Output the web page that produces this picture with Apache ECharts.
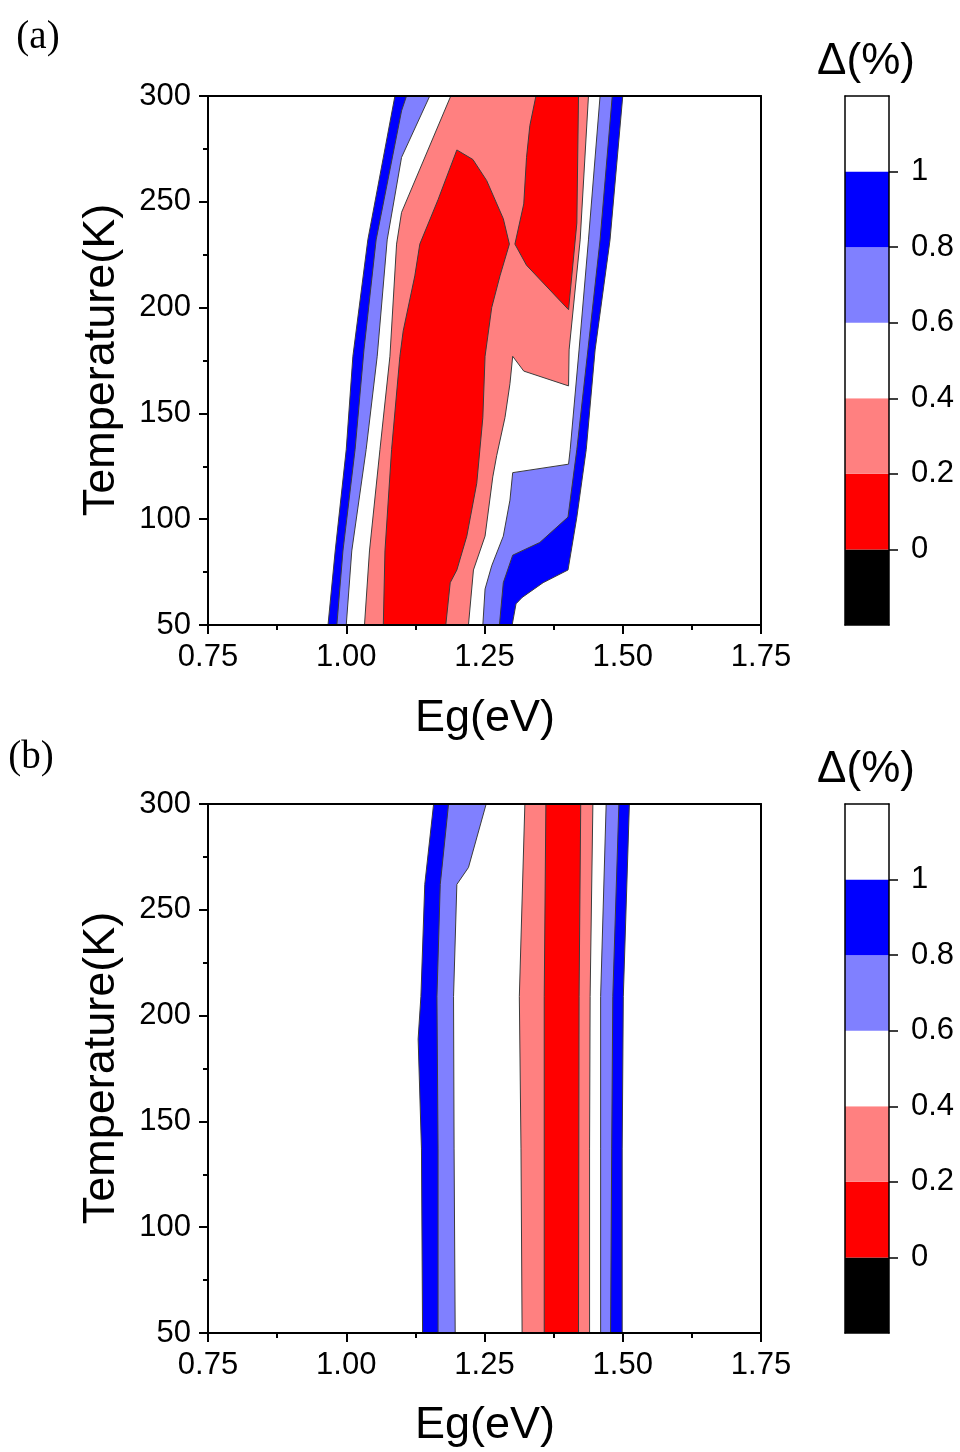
<!DOCTYPE html>
<html><head><meta charset="utf-8">
<script src="https://cdn.jsdelivr.net/npm/echarts@6/dist/echarts.min.js"></script>
<style>html,body{margin:0;background:#fff}#c{width:960px;height:1452px}</style>
</head><body><div id="c"></div>
<script>
// ---------- axes / ticks ----------
const egTicks = [0.75, 1.00, 1.25, 1.50, 1.75];
const tempTicks = [50, 100, 150, 200, 250, 300];
const cbLevels = [-0.2, 0, 0.2, 0.4, 0.6, 0.8, 1.0, 1.2];
const cbColors = ['#000000', '#FF0000', '#FF8080', '#FFFFFF', '#8080FF', '#0000FF', '#FFFFFF'];
const cbTicks = [0, 0.2, 0.4, 0.6, 0.8, 1];

// ---------- panel (a): contour boundaries [Eg (eV), T (K)], left edge top->bottom, right edge top->bottom ----------
const a_lv100_left  = [[1.088,300],[1.039,232],[1.012,177],[1.000,133],[0.980,85],[0.967,50]];
const a_lv100_right = [[1.500,300],[1.477,232],[1.450,180],[1.434,133],[1.417,101],[1.401,76],[1.356,70],[1.318,63],[1.307,60],[1.300,50]];
const a_lv080_left  = [[1.109,300],[1.100,293],[1.054,232],[1.032,180],[1.016,133],[0.994,85],[0.983,50]];
const a_lv080_right = [[1.481,300],[1.459,232],[1.437,180],[1.417,133],[1.401,101],[1.350,89],[1.301,83],[1.284,70],[1.277,50]];
const a_lv060_left  = [[1.151,300],[1.100,271],[1.074,232],[1.056,177],[1.036,133],[1.010,85],[1.000,50]];
const a_lv060_right = [[1.459,300],[1.438,232],[1.421,180],[1.405,133],[1.402,126],[1.301,122],[1.296,109],[1.284,92],[1.263,78],[1.251,67],[1.247,50]];
const a_lv040_left  = [[1.189,300],[1.100,245],[1.091,230],[1.079,177],[1.061,133],[1.042,85],[1.033,50]];
const a_lv040_right = [[1.438,300],[1.423,232],[1.403,180],[1.402,163],[1.321,170],[1.301,177],[1.296,164],[1.287,148],[1.272,130],[1.265,120],[1.251,92],[1.230,76],[1.221,50]];
const a_lv020_islandA = [[1.200,274.5],[1.229,270],[1.254,260],[1.284,242],[1.295,230],[1.278,215],[1.263,200],[1.251,177],[1.247,148],[1.236,117],[1.218,92],[1.200,76],[1.188,70],[1.180,50],[1.067,50],[1.070,85],[1.082,133],[1.097,177],[1.103,189],[1.124,215],[1.133,230],[1.166,251]];
const a_lv020_islandB = [[1.343,300],[1.420,300],[1.417,240],[1.402,199],[1.326,220],[1.305,230],[1.321,249],[1.326,271],[1.332,286]];

// ---------- panel (b) ----------
const b_lv100_left  = [[1.158,300],[1.142,262],[1.135,209],[1.130,189],[1.136,137],[1.138,50]];
const b_lv100_right = [[1.512,300],[1.501,209],[1.499,137],[1.499,50]];
const b_lv080_left  = [[1.185,300],[1.170,262],[1.164,209],[1.166,137],[1.166,50]];
const b_lv080_right = [[1.493,300],[1.482,209],[1.480,137],[1.478,50]];
const b_lv060_left  = [[1.253,300],[1.221,270],[1.200,262],[1.194,209],[1.195,137],[1.197,50]];
const b_lv060_right = [[1.470,300],[1.460,209],[1.460,137],[1.460,50]];
const b_lv040_left  = [[1.323,300],[1.313,209],[1.316,137],[1.318,50]];
const b_lv040_right = [[1.446,300],[1.441,209],[1.440,137],[1.440,50]];
const b_lv020_left  = [[1.361,300],[1.358,209],[1.358,50]];
const b_lv020_right = [[1.424,300],[1.421,209],[1.420,50]];

// ---------- build ----------
function band(left, right) { return left.concat(right.slice().reverse()); }
const FONT = '"Liberation Sans", Arial, sans-serif';
const EDGE = '#3c3c3c';

function polySeries(idx, polys, color) {
  return {
    type: 'custom', xAxisIndex: idx, yAxisIndex: idx, silent: true, animation: false, z: 2,
    data: polys.map((p, i) => [p[0][0], p[0][1], i]),
    renderItem: (params, api) => {
      const pts = polys[params.dataIndex].map(d => api.coord(d));
      return { type: 'polygon', shape: { points: pts }, style: { fill: color, stroke: EDGE, lineWidth: 1 } };
    }
  };
}
function cbSeries(idx) {
  return {
    type: 'custom', xAxisIndex: idx, yAxisIndex: idx, silent: true, animation: false, z: 2,
    data: cbColors.map((c, i) => [0, cbLevels[i], i]),
    renderItem: (params, api) => {
      const i = params.dataIndex;
      const p0 = api.coord([0, cbLevels[i + 1]]);
      const p1 = api.coord([1, cbLevels[i]]);
      return { type: 'rect', shape: { x: p0[0], y: p0[1], width: p1[0] - p0[0], height: p1[1] - p0[1] }, style: { fill: cbColors[i] } };
    }
  };
}

const panels = [{ top: 96 }, { top: 804 }];
const grids = [], xAxes = [], yAxes = [], series = [];
panels.forEach((p, k) => {
  grids.push({ left: 208, top: p.top, width: 553, height: 529, show: false });
});
panels.forEach((p, k) => {
  grids.push({ left: 845, top: p.top, width: 44, height: 529, show: false });
});
const lineStyle = { color: '#000', width: 2 };
const TICKFS = 31;
for (let k = 0; k < 2; k++) {
  xAxes.push({ gridIndex: k, type: 'value', min: 0.75, max: 1.75, interval: 0.25, position: 'bottom', z: 10,
    axisLine: { show: true, lineStyle: lineStyle, onZero: false },
    axisTick: { show: true, inside: false, length: 9, lineStyle: { color: '#000', width: 2 } },
    minorTick: { show: true, splitNumber: 2, length: 5, lineStyle: { color: '#000', width: 2 } },
    splitLine: { show: false },
    axisLabel: { margin: 17, fontSize: TICKFS, fontFamily: FONT, color: '#000', formatter: v => v.toFixed(2) } });
  yAxes.push({ gridIndex: k, type: 'value', min: 50, max: 300, interval: 50, position: 'left', z: 10,
    axisLine: { show: true, lineStyle: lineStyle, onZero: false },
    axisTick: { show: true, inside: false, length: 9, lineStyle: { color: '#000', width: 2 } },
    minorTick: { show: true, splitNumber: 2, length: 5, lineStyle: { color: '#000', width: 2 } },
    splitLine: { show: false },
    axisLabel: { margin: 17, fontSize: TICKFS, fontFamily: FONT, color: '#000' } });
}
for (let k = 0; k < 2; k++) {
  xAxes.push({ gridIndex: 2 + k, type: 'value', min: 0, max: 1, show: false });
  yAxes.push({ gridIndex: 2 + k, type: 'value', min: -0.2, max: 1.2, interval: 0.2, position: 'right', z: 10,
    axisLine: { show: true, lineStyle: { color: '#000', width: 1.5 }, onZero: false },
    axisTick: { show: true, inside: false, length: 9, customValues: cbTicks, lineStyle: { color: '#000', width: 1.5 } },
    splitLine: { show: false },
    axisLabel: { margin: 22, fontSize: TICKFS, fontFamily: FONT, color: '#000', customValues: cbTicks,
      formatter: v => String(Math.round(v * 10) / 10) } });
}
// frame lines (top / right for plots, top/left/bottom for colour bars)
for (let k = 0; k < 2; k++) {
  xAxes.push({ gridIndex: k, type: 'value', min: 0.75, max: 1.75, position: 'top', z: 10,
    axisLine: { show: true, lineStyle: lineStyle, onZero: false }, axisTick: { show: false }, axisLabel: { show: false }, splitLine: { show: false } });
  yAxes.push({ gridIndex: k, type: 'value', min: 50, max: 300, position: 'right', z: 10,
    axisLine: { show: true, lineStyle: lineStyle, onZero: false }, axisTick: { show: false }, axisLabel: { show: false }, splitLine: { show: false } });
}
for (let k = 0; k < 2; k++) {
  xAxes.push({ gridIndex: 2 + k, type: 'value', min: 0, max: 1, position: 'top', z: 10,
    axisLine: { show: true, lineStyle: { color: '#000', width: 1.5 }, onZero: false }, axisTick: { show: false }, axisLabel: { show: false }, splitLine: { show: false } });
  xAxes.push({ gridIndex: 2 + k, type: 'value', min: 0, max: 1, position: 'bottom', z: 10,
    axisLine: { show: true, lineStyle: { color: '#000', width: 1.5 }, onZero: false }, axisTick: { show: false }, axisLabel: { show: false }, splitLine: { show: false } });
  yAxes.push({ gridIndex: 2 + k, type: 'value', min: -0.2, max: 1.2, position: 'left', z: 10,
    axisLine: { show: true, lineStyle: { color: '#000', width: 1.5 }, onZero: false }, axisTick: { show: false }, axisLabel: { show: false }, splitLine: { show: false } });
}

// panel (a) layers
series.push(polySeries(0, [band(a_lv100_left, a_lv100_right)], '#0000FF'));
series.push(polySeries(0, [band(a_lv080_left, a_lv080_right)], '#8080FF'));
series.push(polySeries(0, [band(a_lv060_left, a_lv060_right)], '#FFFFFF'));
series.push(polySeries(0, [band(a_lv040_left, a_lv040_right)], '#FF8080'));
series.push(polySeries(0, [a_lv020_islandA, a_lv020_islandB], '#FF0000'));
// panel (b) layers
series.push(polySeries(1, [band(b_lv100_left, b_lv100_right)], '#0000FF'));
series.push(polySeries(1, [band(b_lv080_left, b_lv080_right)], '#8080FF'));
series.push(polySeries(1, [band(b_lv060_left, b_lv060_right)], '#FFFFFF'));
series.push(polySeries(1, [band(b_lv040_left, b_lv040_right)], '#FF8080'));
series.push(polySeries(1, [band(b_lv020_left, b_lv020_right)], '#FF0000'));
// colour bars
series.push(cbSeries(2));
series.push(cbSeries(3));

function txt(text, x, y, size, rot, family) {
  return { type: 'text', x: x, y: y, rotation: rot || 0, z: 20,
    style: { text: text, fontSize: size, fontFamily: family || FONT, fill: '#000',
      align: 'center', verticalAlign: 'middle', textAlign: 'center', textVerticalAlign: 'middle' } };
}
const graphic = [
  txt('(a)', 38, 38, 39, 0, '"Liberation Serif", "Times New Roman", serif'),
  txt('(b)', 31, 758, 39, 0, '"Liberation Serif", "Times New Roman", serif'),
  txt('Temperature(K)', 102, 360, 45, Math.PI / 2),
  txt('Temperature(K)', 102, 1068, 45, Math.PI / 2),
  txt('Eg(eV)', 485, 719, 45),
  txt('Eg(eV)', 485, 1426, 45),
  txt('Δ(%)', 866, 62, 44),
  txt('Δ(%)', 866, 770, 44)
];

const chart = echarts.init(document.getElementById('c'), null, { renderer: 'canvas' });
chart.setOption({
  animation: false, backgroundColor: '#fff',
  grid: grids, xAxis: xAxes, yAxis: yAxes, series: series, graphic: graphic
});
</script></body></html>
